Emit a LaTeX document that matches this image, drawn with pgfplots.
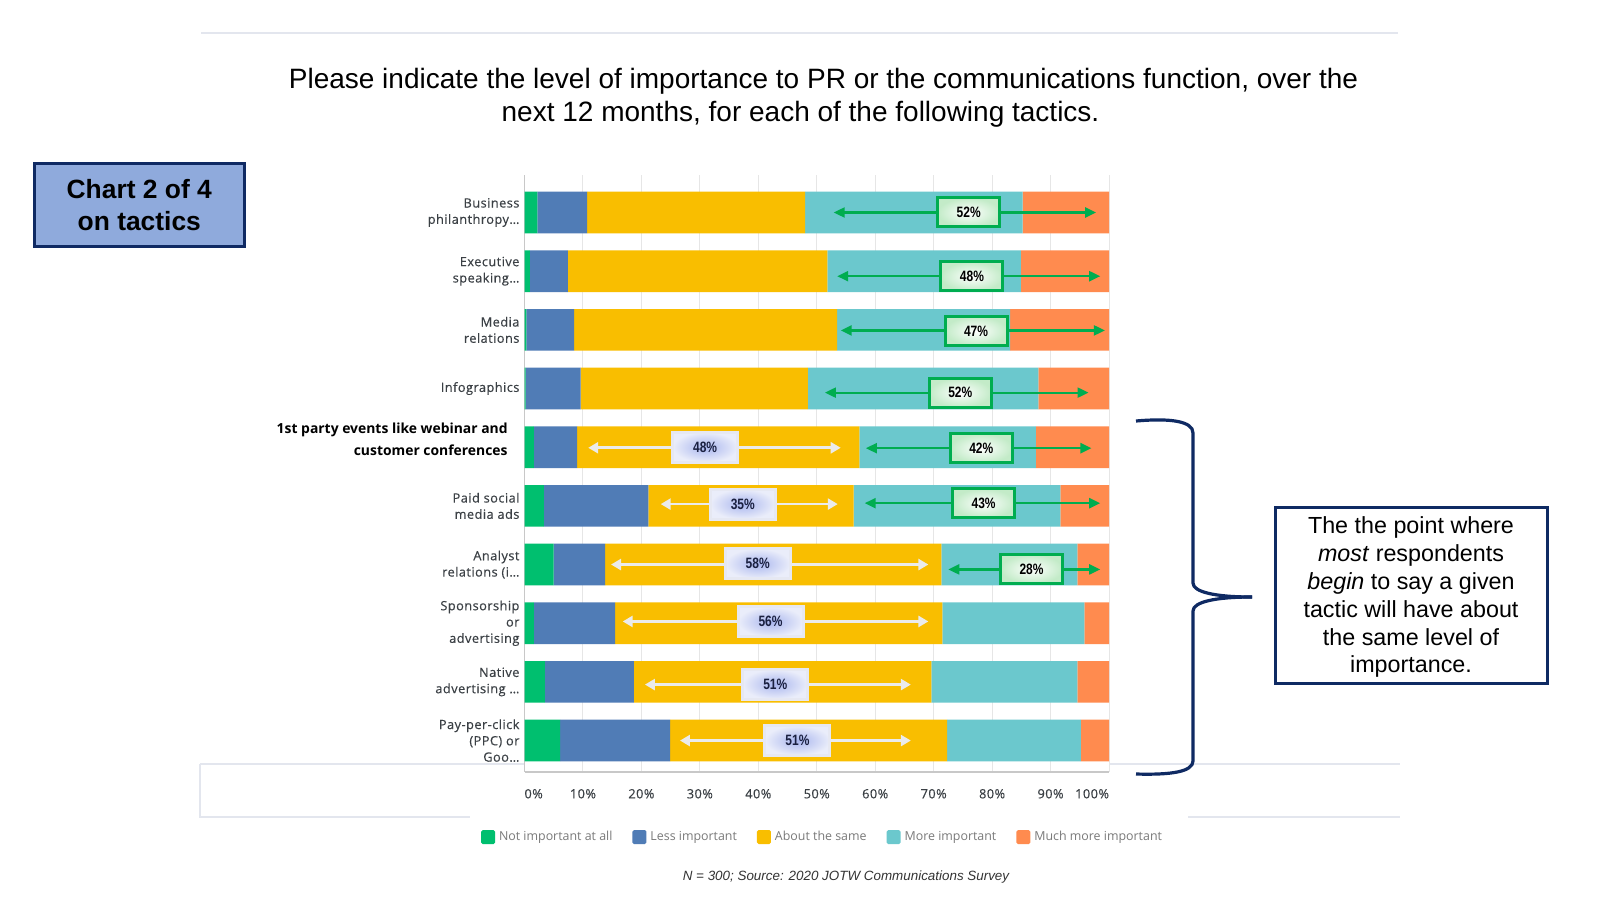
\documentclass[border=0pt]{standalone}
\usepackage{fontspec}
\setmainfont{Liberation Sans}
\newfontfamily\osans{Open Sans}
\newfontfamily\osansm{Open Sans}[FakeBold=0.3, LetterSpace=3.5]
\newfontfamily\narrowb{Liberation Sans}[FakeStretch=0.8]
\usepackage{pgfplots}
\pgfplotsset{compat=1.18}
\usepackage{pgfplotstable}
\usetikzlibrary{arrows.meta}

\definecolor{smgreen}{HTML}{00BF6F}
\definecolor{smblue}{HTML}{507CB6}
\definecolor{smyellow}{HTML}{F9BE00}
\definecolor{smteal}{HTML}{6BC8CD}
\definecolor{smorange}{HTML}{FF8B4F}
\definecolor{gridgray}{HTML}{E6E6E6}
\definecolor{axisgray}{HTML}{C8C8C8}
\definecolor{labgray}{HTML}{3B4045}
\definecolor{leggray}{HTML}{7A7A7A}
\definecolor{navy}{HTML}{0F2A63}
\definecolor{chartbox}{HTML}{8FAADC}
\definecolor{arrgreen}{HTML}{00AD50}
\definecolor{gboxedge}{HTML}{C3EBC8}
\definecolor{wboxcenter}{HTML}{A9B6EE}
\definecolor{wboxedge}{HTML}{EAEDFA}
\definecolor{wboxborder}{HTML}{E6E8F2}
\definecolor{arrwhite}{HTML}{EBEBEB}
\definecolor{navytext}{HTML}{1A2040}
\definecolor{slideline}{HTML}{E3E6EE}
\definecolor{srcgray}{HTML}{333333}

% columns: a=Not important at all, b=Less important, c=About the same, d=More important, e=Much more important
\pgfplotstableread{
y a b c d e
0 2.2 8.5 37.3 37.2 14.8
1 0.9 6.5 44.4 33.1 15.1
2 0.3 8.2 45.0 29.6 16.9
3 0.2 9.4 38.9 39.4 12.1
4 1.6 7.4 48.3 30.2 12.5
5 3.3 17.9 35.1 35.4 8.3
6 5.0 8.8 57.5 23.3 5.4
7 1.6 13.9 56.0 24.3 4.2
8 3.5 15.2 50.9 25.0 5.4
9 6.1 18.8 47.4 22.9 4.8
}\datatable

\tikzset{
  garrow/.style={draw=arrgreen, line width=1.1pt, >={Triangle[length=5.5pt,width=5pt]}, <->},
  warrow/.style={draw=arrwhite, line width=1.3pt, >={Triangle[length=5pt,width=5.5pt]}, <->},
  gbox/.style={draw=arrgreen, line width=1.5pt, inner color=white, outer color=gboxedge, minimum width=31pt, minimum height=14.5pt, inner sep=0pt, font=\narrowb\bfseries\fontsize{7.5}{8}\selectfont, text=black},
  wbox/.style={draw=wboxborder, line width=1.5pt, inner color=wboxcenter, outer color=wboxedge, minimum width=32.5pt, minimum height=15pt, inner sep=0pt, font=\narrowb\bfseries\fontsize{7.5}{8}\selectfont, text=navytext},
}

\pgfplotsset{
  legsq/.style={legend image code/.code={\fill[##1, rounded corners=0.8pt] (0pt,-3.5pt) rectangle (7pt,3.5pt);}},
}

\begin{document}
\begin{tikzpicture}[x=0.5pt,y=-0.5pt]
\path[use as bounding box, fill=white] (0,0) rectangle (1600,900);

% faint slide lines
\draw[slideline, line width=0.6pt] (201,33) -- (1398,33);
\draw[slideline, line width=0.6pt] (200,764) -- (524,764);
\draw[slideline, line width=0.6pt] (1110,764) -- (1400,764);
\draw[slideline, line width=0.6pt] (200,764) -- (200,817) -- (470,817);
\draw[slideline, line width=0.6pt] (1188,817) -- (1400,817);

% title
\node[font=\fontsize{14}{16}\selectfont, text=black] at (823.5,81.6) {Please indicate the level of importance to PR or the communications function, over the};
\node[font=\fontsize{14}{16}\selectfont, text=black] at (800.5,114.2) {next 12 months, for each of the following tactics.};

% chart box
\draw[navy, line width=1.5pt, fill=chartbox] (34,163) rectangle (244,246);
\node[font=\bfseries\fontsize{13.2}{15.8}\selectfont, align=center, text=black] at (139.3,205.2) {Chart 2 of 4\\on tactics};

\begin{axis}[
  at={(262.25pt,-386pt)}, anchor=south west,
  width=292.25pt, height=298.5pt, scale only axis,
  xbar stacked, bar width=0.71,
  xmin=0, xmax=100, ymin=-0.639, ymax=9.536, y dir=reverse,
  axis line style={draw=none},
  xmajorgrids, grid style={draw=gridgray, line width=0.5pt},
  major tick length=0pt,
  xtick={0,10,20,30,40,50,60,70,80,90,100},
  xticklabels={\makebox[0pt][l]{0\%},10\%,20\%,30\%,40\%,50\%,60\%,70\%,80\%,90\%,\makebox[0pt][r]{100\%}},
  xticklabel style={font=\osansm\fontsize{6.4}{8}\selectfont, text=labgray, yshift=-5pt},
  ytick={0,1,2,3,4,5,6,7,8,9},
  yticklabels={{Business\\philanthropy…},{Executive\\speaking…},{Media\\relations},{Infographics},{},{Paid social\\media ads},{Analyst\\relations (i…},{Sponsorship\\or\\advertising},{Native\\advertising …},{Pay-per-click\\(PPC) or\\Goo…}},
  yticklabel style={align=right, font=\osansm\fontsize{6.4}{8.15}\selectfont, text=labgray, xshift=1pt},
  clip=false,
  legend columns=5,
  legend style={at={(0.5116,-0.109)}, anchor=center, draw=none, fill=none,
    font=\osans\fontsize{6.2}{7}\selectfont,
    /tikz/every even column/.append style={column sep=8pt}},
]
\addplot[fill=smgreen, draw=none, legsq] table[x=a, y=y] {\datatable};
\addplot[fill=smblue, draw=none, legsq] table[x=b, y=y] {\datatable};
\addplot[fill=smyellow, draw=none, legsq] table[x=c, y=y] {\datatable};
\addplot[fill=smteal, draw=none, legsq] table[x=d, y=y] {\datatable};
\addplot[fill=smorange, draw=none, legsq] table[x=e, y=y] {\datatable};
\legend{\textcolor{leggray}{Not important at all},\textcolor{leggray}{Less important},\textcolor{leggray}{About the same},\textcolor{leggray}{More important},\textcolor{leggray}{Much more important}}

% axis lines
\draw[axisgray, line width=0.5pt] (axis cs:0,-0.639) -- (axis cs:0,9.536);
\draw[axisgray, line width=1pt] (axis cs:0,9.536) -- (axis cs:100,9.536);

% bold label for row 5
\node[anchor=east, align=right, inner sep=0pt, font=\osans\bfseries\fontsize{6.95}{10.7}\selectfont, text=black, xshift=-8.25pt, yshift=3.95pt] at (axis cs:0,4) {1st party events like webinar and\\customer conferences};

% annotation anchors: white (about the same)
\coordinate (wa1) at (axis cs:10.9,4.01);  \coordinate (wb1) at (axis cs:54.1,4.01);  \coordinate (wc1) at (axis cs:30.9,4.0);
\coordinate (wa2) at (axis cs:23.3,4.97);  \coordinate (wb2) at (axis cs:53.6,4.97);  \coordinate (wc2) at (axis cs:37.35,4.97);
\coordinate (wa3) at (axis cs:14.8,6.0);   \coordinate (wb3) at (axis cs:69.1,6.0);   \coordinate (wc3) at (axis cs:39.9,5.986);
\coordinate (wa4) at (axis cs:16.8,6.97);  \coordinate (wb4) at (axis cs:69.1,6.97);  \coordinate (wc4) at (axis cs:42.1,6.974);
\coordinate (wa5) at (axis cs:20.6,8.046); \coordinate (wb5) at (axis cs:66.1,8.046); \coordinate (wc5) at (axis cs:42.9,8.04);
\coordinate (wa6) at (axis cs:26.6,9.0);   \coordinate (wb6) at (axis cs:66.1,9.0);   \coordinate (wc6) at (axis cs:46.7,9.0);
% green (more + much more important)
\coordinate (ga1) at (axis cs:52.9,0);     \coordinate (gb1) at (axis cs:97.8,0);     \coordinate (gc1) at (axis cs:76.0,0);
\coordinate (ga2) at (axis cs:53.5,1.086); \coordinate (gb2) at (axis cs:98.5,1.086); \coordinate (gc2) at (axis cs:76.55,1.089);
\coordinate (ga3) at (axis cs:54.1,2.01);  \coordinate (gb3) at (axis cs:99.3,2.01);  \coordinate (gc3) at (axis cs:77.25,2.017);
\coordinate (ga4) at (axis cs:51.4,3.07);  \coordinate (gb4) at (axis cs:96.5,3.07);  \coordinate (gc4) at (axis cs:74.55,3.069);
\coordinate (ga5) at (axis cs:58.4,4.017); \coordinate (gb5) at (axis cs:97.0,4.017); \coordinate (gc5) at (axis cs:78.15,4.02);
\coordinate (ga6) at (axis cs:58.2,4.954); \coordinate (gb6) at (axis cs:98.5,4.954); \coordinate (gc6) at (axis cs:78.55,4.957);
\coordinate (ga7) at (axis cs:72.5,6.083); \coordinate (gb7) at (axis cs:98.5,6.083); \coordinate (gc7) at (axis cs:86.75,6.075);
\end{axis}

% annotations drawn over the bars
\draw[warrow] (wa1) -- (wb1); \node[wbox] at (wc1) {48\%};
\draw[warrow] (wa2) -- (wb2); \node[wbox] at (wc2) {35\%};
\draw[warrow] (wa3) -- (wb3); \node[wbox] at (wc3) {58\%};
\draw[warrow] (wa4) -- (wb4); \node[wbox] at (wc4) {56\%};
\draw[warrow] (wa5) -- (wb5); \node[wbox] at (wc5) {51\%};
\draw[warrow] (wa6) -- (wb6); \node[wbox] at (wc6) {51\%};
\draw[garrow] (ga1) -- (gb1); \node[gbox] at (gc1) {52\%};
\draw[garrow] (ga2) -- (gb2); \node[gbox] at (gc2) {48\%};
\draw[garrow] (ga3) -- (gb3); \node[gbox] at (gc3) {47\%};
\draw[garrow] (ga4) -- (gb4); \node[gbox] at (gc4) {52\%};
\draw[garrow] (ga5) -- (gb5); \node[gbox] at (gc5) {42\%};
\draw[garrow] (ga6) -- (gb6); \node[gbox] at (gc6) {43\%};
\draw[garrow] (ga7) -- (gb7); \node[gbox] at (gc7) {28\%};

% brace
\draw[navy, line width=1.6pt] (1136,421) .. controls (1170,418) and (1193,421) .. (1193,433) -- (1193,583) .. controls (1193,592) and (1215,597) .. (1252,597);
\draw[navy, line width=1.6pt] (1252,597) .. controls (1215,597) and (1193,602) .. (1193,611) -- (1193,761) .. controls (1193,772) and (1170,775) .. (1136,774);

% right note box
\draw[navy, line width=1.5pt] (1275,507) rectangle (1547,683.5);
\node[align=center, font=\fontsize{11.65}{13.9}\selectfont, text=black] at (1411,597.4) {The the point where\\\textit{most} respondents\\\textit{begin} to say a given\\tactic will have about\\the same level of\\importance.};

% source
\node[font=\itshape\fontsize{6.7}{8}\selectfont, text=srcgray] at (846,876.6) {N = 300; Source: 2020 JOTW Communications Survey};
\end{tikzpicture}
\end{document}
